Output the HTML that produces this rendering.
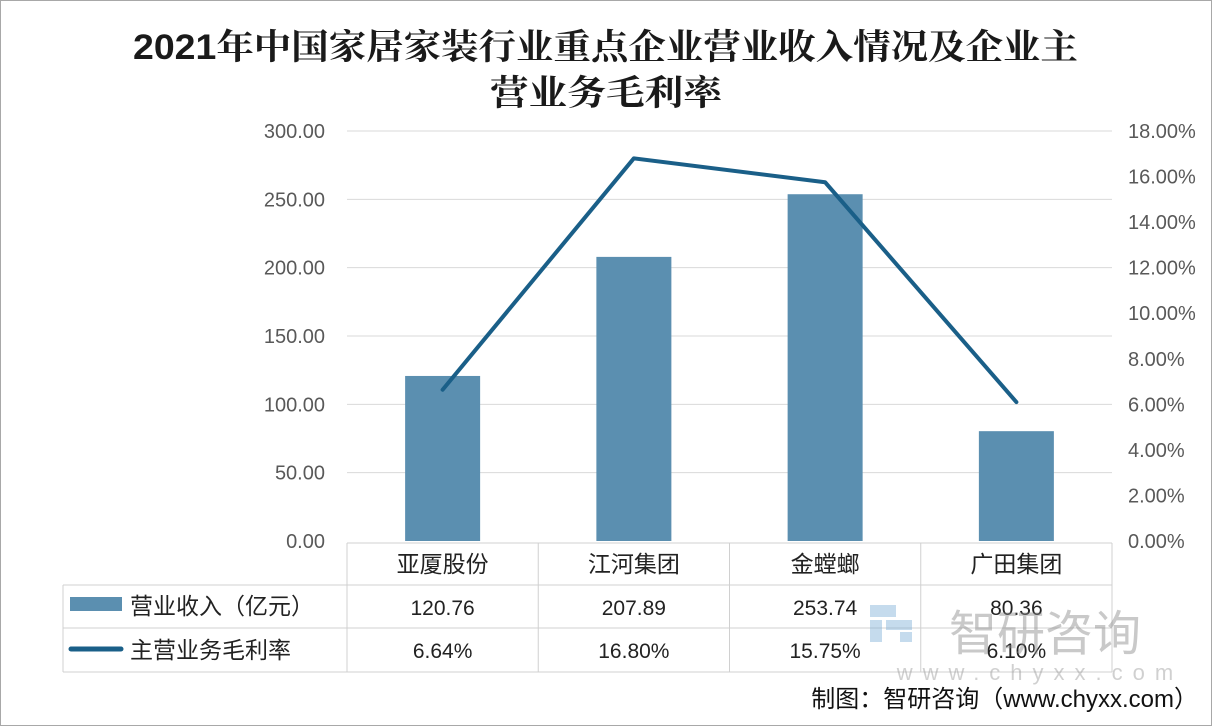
<!DOCTYPE html>
<html><head><meta charset="utf-8"><style>
html,body{margin:0;padding:0;background:#fff;}
svg{display:block;}
</style></head><body>
<svg id="chart" width="1212" height="726" viewBox="0 0 1212 726" xmlns="http://www.w3.org/2000/svg">
<rect x="0.5" y="0.5" width="1211" height="725" fill="#fff" stroke="#a8a8a8"/>
<text x="133" y="59" textLength="945" lengthAdjust="spacingAndGlyphs" font-family="'Liberation Sans','Noto Serif CJK SC',serif" font-weight="bold" font-size="35" fill="#1a1a1a">2021年中国家居家装行业重点企业营业收入情况及企业主</text>
<text x="490" y="105" textLength="232" lengthAdjust="spacingAndGlyphs" font-family="'Liberation Sans','Noto Serif CJK SC',serif" font-weight="bold" font-size="35" fill="#1a1a1a">营业务毛利率</text>
<g id="grid"></g>
<g id="bars"></g>
<g id="line"></g>
<g id="axes"></g>
<g id="table"></g>
<g opacity="0.45">
<rect x="870" y="605" width="26" height="12" fill="#7fb0d8"/>
<rect x="870" y="620" width="12" height="22" fill="#7fb0d8"/>
<rect x="886" y="620" width="26" height="10" fill="#7fb0d8"/>
<rect x="900" y="632" width="12" height="10" fill="#7fb0d8"/>
<text x="1045" y="650" text-anchor="middle" font-family="'Noto Sans CJK SC',sans-serif" font-size="48" fill="#888">智研咨询</text>
<text x="1040" y="680" text-anchor="middle" font-family="'Liberation Sans',sans-serif" font-size="22" letter-spacing="10" fill="#999">www.chyxx.com</text>
</g>
<text x="1198" y="707" text-anchor="end" font-family="'Liberation Sans','Noto Sans CJK SC',sans-serif" font-size="24" fill="#111">制图：智研咨询（www.chyxx.com）</text>
</svg>
<script>
const categories=["亚厦股份","江河集团","金螳螂","广田集团"];
const revenue=[120.76,207.89,253.74,80.36];
const margin=[6.64,16.80,15.75,6.10];
const leftTicks=[0,50,100,150,200,250,300];
const rightTicks=[0,2,4,6,8,10,12,14,16,18];
const NS="http://www.w3.org/2000/svg";
const X0=347,X1=1112,Y0=541,Y1=131;
const yL=v=>Y0-(v/300)*(Y0-Y1);
const yR=v=>Y0-(v/18)*(Y0-Y1);
const cw=(X1-X0)/categories.length;
const xc=i=>X0+cw*(i+0.5);
function mk(tag,attrs,parent,txt){const e=document.createElementNS(NS,tag);for(const k in attrs)e.setAttribute(k,attrs[k]);if(txt!==undefined)e.textContent=txt;document.getElementById(parent).appendChild(e);return e;}
const FS="'Liberation Sans','Noto Sans CJK SC',sans-serif";
leftTicks.forEach(t=>{
 if(t>0){const g=mk('line',{x1:X0,x2:X1,y1:yL(t),y2:yL(t),stroke:'#d9d9d9','stroke-width':1},'grid');
 
 }
 const l=mk('text',{x:325,y:yL(t)+7,'text-anchor':'end','font-family':FS,'font-size':20,fill:'#595959'},'axes',t.toFixed(2));
 
 
});
rightTicks.forEach(t=>{
 const l=mk('text',{x:1128,y:yR(t)+7,'font-family':FS,'font-size':20,fill:'#595959'},'axes',t.toFixed(2)+'%');
 
 
});
revenue.forEach((v,i)=>{
 const b=mk('rect',{x:xc(i)-37.5,y:yL(v),width:75,height:Y0-yL(v),fill:'#5b8fb0'},'bars');
 
 
});
const pts=margin.map((v,i)=>xc(i)+','+yR(v)).join(' ');
const pl=mk('polyline',{points:pts,fill:'none',stroke:'#1a5f88','stroke-width':4,'stroke-linejoin':'round','stroke-linecap':'round'},'line');


const TC='#d0d0d0';
const rows=[543,585,628,672];
const hl=(x1,x2,y)=>{const e=mk('line',{x1:x1,x2:x2,y1:y,y2:y,stroke:TC},'table');};
hl(X0,X1,rows[0]);hl(63,X1,rows[1]);hl(63,X1,rows[2]);hl(63,X1,rows[3]);
for(let i=0;i<=categories.length;i++){const x=X0+cw*i;const e=mk('line',{x1:x,x2:x,y1:rows[0],y2:rows[3],stroke:TC},'table');}
{const e=mk('line',{x1:63,x2:63,y1:rows[1],y2:rows[3],stroke:TC},'table');}
categories.forEach((c,i)=>{
 const t=mk('text',{x:xc(i),y:572,'text-anchor':'middle','font-family':FS,'font-size':23,fill:'#222'},'table',c);
 
 
 const r=mk('text',{x:xc(i),y:615,'text-anchor':'middle','font-family':FS,'font-size':21,fill:'#222'},'table',revenue[i].toFixed(2));
 
 
 const m=mk('text',{x:xc(i),y:658,'text-anchor':'middle','font-family':FS,'font-size':21,fill:'#222'},'table',margin[i].toFixed(2)+'%');
 
 
});
const k1=mk('rect',{x:70,y:597,width:52,height:14,fill:'#5b8fb0'},'table');


const t1=mk('text',{x:130,y:614,'font-family':FS,'font-size':23,fill:'#222'},'table','营业收入（亿元）');


const k2=mk('line',{x1:71,x2:121,y1:649,y2:649,stroke:'#1a5f88','stroke-width':5,'stroke-linecap':'round'},'table');


const t2=mk('text',{x:130,y:658,'font-family':FS,'font-size':23,fill:'#222'},'table','主营业务毛利率');


</script>
</body></html>
